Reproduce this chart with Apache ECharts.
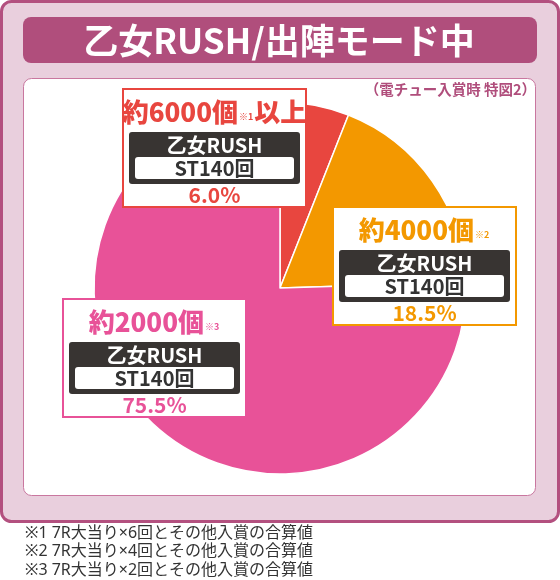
<!DOCTYPE html>
<html>
<head>
<meta charset="utf-8">
<script src="https://cdn.jsdelivr.net/npm/echarts@6/dist/echarts.min.js"></script>
<style>
  html, body { margin: 0; padding: 0; background: #fff; }
  #chart { width: 560px; height: 580px; }
</style>
</head>
<body>
<div id="chart"></div>
<script>
// データ
const chartTitle = '乙女RUSH/出陣モード中'
const chartNote = '（電チュー入賞時 特図2）'
const amounts = ['約6000個', '約4000個', '約2000個']
const noteMarks = ['※1', '※2', '※3']
const amountSuffix = ['以上', '', '']
const modes = ['乙女RUSH', '乙女RUSH', '乙女RUSH']
const stCounts = ['ST140回', 'ST140回', 'ST140回']
const shares = [6.0, 18.5, 75.5]
const footnotes = [
  '※1 7R大当り×6回とその他入賞の合算値',
  '※2 7R大当り×4回とその他入賞の合算値',
  '※3 7R大当り×2回とその他入賞の合算値'
]

// 見た目
const sliceColors = ['#e8463f', '#f39800', '#e85298']
const labelBoxes = [[122, 88], [332, 206], [62, 298]]
const font = '"Noto Sans CJK JP", "Noto Sans", sans-serif'
const latinFont = '"Noto Sans", "Noto Sans CJK JP", sans-serif'

// ラベル（枠・黒帯・白帯・割合）
function labelGroup(i) {
  const c = sliceColors[i]
  const w = 185
  const cx = w / 2
  let title = '{big|' + amounts[i] + '}{mark|' + noteMarks[i] + '}'
  if (amountSuffix[i]) title += '{big|' + amountSuffix[i] + '}'
  return {
    type: 'group',
    x: labelBoxes[i][0],
    y: labelBoxes[i][1],
    children: [
      { type: 'rect', z: 10, z2: 0, shape: { x: 1, y: 1, width: w - 2, height: 118 },
        style: { fill: '#fff', stroke: c, lineWidth: 2 } },
      { type: 'text', z: 10, z2: 2, x: cx, y: 24,
        style: {
          text: title, align: 'center', verticalAlign: 'middle',
          rich: {
            big: { fontFamily: font, fontSize: 26, fontWeight: 900, fill: c, lineHeight: 30 },
            mark: { fontFamily: font, fontSize: 9, fontWeight: 'bold', fill: c, padding: [10, 1, 0, 1] }
          }
        } },
      { type: 'rect', z: 10, z2: 1, shape: { x: 7, y: 44, width: 171, height: 52, r: 3 },
        style: { fill: '#383432' } },
      { type: 'rect', z: 10, z2: 1.5, shape: { x: 13, y: 69, width: 159, height: 22, r: 3 },
        style: { fill: '#fff' } },
      { type: 'text', z: 10, z2: 2, x: cx, y: 57,
        style: { text: modes[i], fill: '#fff', font: 'bold 20px ' + font, align: 'center', verticalAlign: 'middle' } },
      { type: 'text', z: 10, z2: 2, x: cx, y: 80.5,
        style: { text: stCounts[i], fill: '#333', font: 'bold 20px ' + font, align: 'center', verticalAlign: 'middle' } },
      { type: 'text', z: 10, z2: 2, x: cx, y: 107,
        style: { text: shares[i].toFixed(1) + '%', fill: c, font: 'bold 21px ' + font, align: 'center', verticalAlign: 'middle' } }
    ]
  }
}

const graphics = [
  { type: 'rect', z: 0, z2: 0, shape: { x: 1.5, y: 1.5, width: 557, height: 520, r: 10 },
    style: { fill: '#e9cfdd', stroke: '#b3507f', lineWidth: 3 } },
  { type: 'rect', z: 0, z2: 1, shape: { x: 23, y: 17, width: 514, height: 46, r: 8 },
    style: { fill: '#b04e7c' } },
  { type: 'text', z: 0, z2: 2, x: 279, y: 41,
    style: { text: chartTitle, fill: '#fff', font: 'bold 35px ' + font, align: 'center', verticalAlign: 'middle' } },
  { type: 'rect', z: 0, z2: 1, shape: { x: 23.5, y: 78.5, width: 512, height: 417, r: 8 },
    style: { fill: '#fff', stroke: '#c9779f', lineWidth: 1 } },
  { type: 'text', z: 0, z2: 2, x: 536, y: 89,
    style: { text: chartNote, fill: '#b04e7c', font: 'bold 14.5px ' + font, align: 'right', verticalAlign: 'middle' } }
].concat(footnotes.map((t, i) => ({
  type: 'text', z: 0, z2: 2, x: 25, y: 533 + i * 18.5,
  style: { text: t, fill: '#333', font: '16px ' + latinFont, align: 'left', verticalAlign: 'middle' }
}))).concat(shares.map((v, i) => labelGroup(i)))

const myChart = echarts.init(document.getElementById('chart'))
myChart.setOption({
  animation: false,
  graphic: { elements: graphics },
  series: [
    {
      type: 'pie',
      center: [280, 288],
      radius: 186,
      startAngle: 90,
      clockwise: true,
      itemStyle: { borderColor: '#fff', borderWidth: 1.5 },
      label: { show: false },
      labelLine: { show: false },
      emphasis: { disabled: true },
      data: shares.map((v, i) => ({ name: amounts[i], value: v, itemStyle: { color: sliceColors[i] } }))
    }
  ]
})
</script>
</body>
</html>
